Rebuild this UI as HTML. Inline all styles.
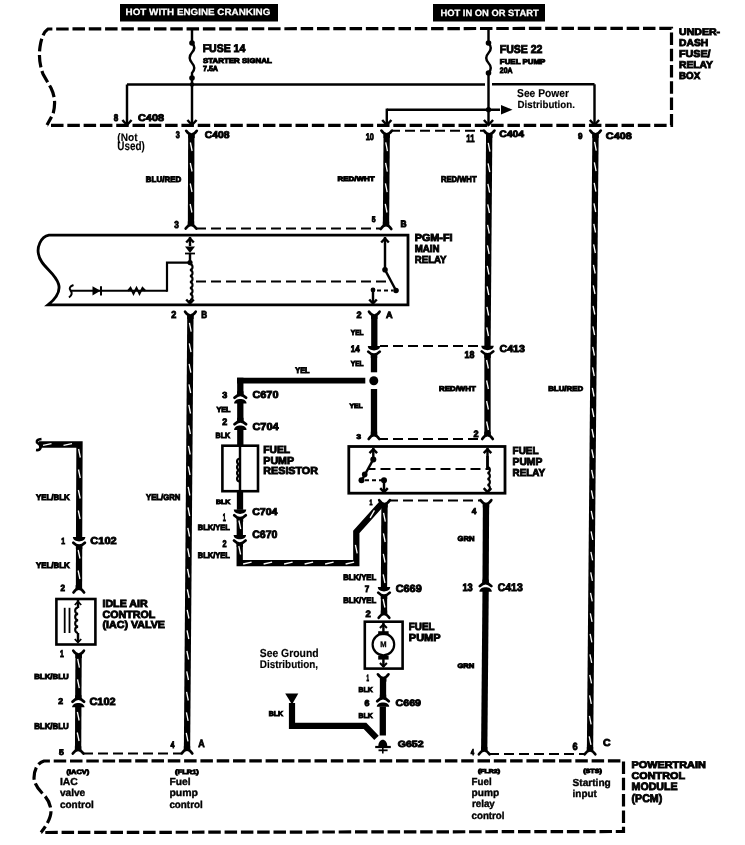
<!DOCTYPE html>
<html><head><meta charset="utf-8"><style>
html,body{margin:0;padding:0;background:#fff;}
body{width:745px;height:845px;overflow:hidden;}
svg{display:block;will-change:transform;}
text{font-family:"Liberation Sans",sans-serif;text-rendering:geometricPrecision;}
</style></head><body>
<svg width="745" height="845" viewBox="0 0 745 845">
<rect width="745" height="845" fill="#fff"/>
<rect x="120" y="4" width="158" height="17.5" fill="#000"/>
<text x="125.62" y="14.78" font-size="9.17" font-weight="bold" fill="#fff" stroke="#fff" stroke-width="0.25" textLength="144.75" lengthAdjust="spacingAndGlyphs">HOT WITH ENGINE CRANKING</text>
<rect x="433" y="4" width="112" height="17.5" fill="#000"/>
<text x="440.43" y="15.78" font-size="9.17" font-weight="bold" fill="#fff" stroke="#fff" stroke-width="0.25" textLength="98.25" lengthAdjust="spacingAndGlyphs">HOT IN ON OR START</text>
<path d="M47,125 L53,114 Q57,100 51,88 L43,74 Q38,61 40,47 Q42,33 48,29 L671.5,28.3 L671.5,125.3 L47,125.3" stroke="#000" stroke-width="3.2" fill="none" stroke-dasharray="12.5 3.8" stroke-dashoffset="3"/>
<text x="679.05" y="35.15" font-size="9.68" font-weight="bold" fill="#000" stroke="#000" stroke-width="0.9" textLength="41" lengthAdjust="spacingAndGlyphs">UNDER-</text>
<text x="679.05" y="46.45" font-size="9.97" font-weight="bold" fill="#000" stroke="#000" stroke-width="0.9" textLength="29.2" lengthAdjust="spacingAndGlyphs">DASH</text>
<text x="679.05" y="57.25" font-size="9.97" font-weight="bold" fill="#000" stroke="#000" stroke-width="0.9" textLength="31.5" lengthAdjust="spacingAndGlyphs">FUSE/</text>
<text x="679.05" y="68.05" font-size="9.97" font-weight="bold" fill="#000" stroke="#000" stroke-width="0.9" textLength="33.9" lengthAdjust="spacingAndGlyphs">RELAY</text>
<text x="679.05" y="79.35" font-size="9.97" font-weight="bold" fill="#000" stroke="#000" stroke-width="0.9" textLength="21.2" lengthAdjust="spacingAndGlyphs">BOX</text>
<line x1="192" y1="28" x2="192" y2="43" stroke="#000" stroke-width="2.45" stroke-linecap="butt"/>
<path d="M192,43 Q196.5,47.5 192,52.5 Q187.5,57.5 192,63 Q196.5,68 192,73 L192,78" stroke="#000" stroke-width="2.4" fill="none" />
<circle cx="192" cy="43" r="2.8" fill="#000"/>
<circle cx="192" cy="78" r="2.8" fill="#000"/>
<line x1="192" y1="78" x2="192" y2="124.5" stroke="#000" stroke-width="2.45" stroke-linecap="butt"/>
<polyline points="187.4,120 192,125 196.6,120" stroke="#000" stroke-width="2.45" fill="none" stroke-linejoin="miter"/>
<text x="202.65" y="51.85" font-size="11.13" font-weight="bold" fill="#000" stroke="#000" stroke-width="0.9" textLength="42.6" lengthAdjust="spacingAndGlyphs">FUSE 14</text>
<text x="202.95" y="62.95" font-size="6.93" font-weight="bold" fill="#000" stroke="#000" stroke-width="0.9" textLength="68.9" lengthAdjust="spacingAndGlyphs">STARTER SIGNAL</text>
<text x="202.95" y="71.35" font-size="7.51" font-weight="bold" fill="#000" stroke="#000" stroke-width="0.9" textLength="15.1" lengthAdjust="spacingAndGlyphs">7.5A</text>
<line x1="127" y1="84.5" x2="485" y2="84.5" stroke="#000" stroke-width="2.45" stroke-linecap="butt"/>
<line x1="492" y1="84.3" x2="594.5" y2="84.3" stroke="#000" stroke-width="2.45" stroke-linecap="butt"/>
<circle cx="192" cy="84.5" r="2.2" fill="#000"/>
<line x1="127" y1="84.5" x2="127" y2="124.5" stroke="#000" stroke-width="2.45" stroke-linecap="butt"/>
<polyline points="122.4,120 127,125 131.6,120" stroke="#000" stroke-width="2.45" fill="none" stroke-linejoin="miter"/>
<line x1="594.5" y1="84.3" x2="594.5" y2="124.5" stroke="#000" stroke-width="2.45" stroke-linecap="butt"/>
<polyline points="589.9,120 594.5,125 599.1,120" stroke="#000" stroke-width="2.45" fill="none" stroke-linejoin="miter"/>
<text x="113.65" y="121.15" font-size="9.68" font-weight="bold" fill="#000" stroke="#000" stroke-width="0.9" textLength="4.5" lengthAdjust="spacingAndGlyphs">8</text>
<text x="138.05" y="121.15" font-size="9.68" font-weight="bold" fill="#000" stroke="#000" stroke-width="0.9" textLength="25.9" lengthAdjust="spacingAndGlyphs">C408</text>
<text x="117.35" y="140.55" font-size="11.00" font-weight="bold" fill="#000" stroke="#000" stroke-width="0.1" textLength="20.2" lengthAdjust="spacingAndGlyphs">(Not</text>
<text x="117.35" y="150.45" font-size="12.23" font-weight="bold" fill="#000" stroke="#000" stroke-width="0.1" textLength="27.5" lengthAdjust="spacingAndGlyphs">Used)</text>
<line x1="488.5" y1="28" x2="488.5" y2="43" stroke="#000" stroke-width="2.45" stroke-linecap="butt"/>
<path d="M488.5,43 Q493,48 488.5,53 Q484,58 488.5,63 Q493,68 488.5,73" stroke="#000" stroke-width="2.4" fill="none" />
<circle cx="488.5" cy="43" r="2.8" fill="#000"/>
<circle cx="488.5" cy="73" r="2.8" fill="#000"/>
<line x1="488.5" y1="73" x2="488.5" y2="124.5" stroke="#000" stroke-width="2.45" stroke-linecap="butt"/>
<polyline points="483.9,120 488.5,125 493.1,120" stroke="#000" stroke-width="2.45" fill="none" stroke-linejoin="miter"/>
<line x1="386.8" y1="109.7" x2="500" y2="109.7" stroke="#000" stroke-width="2.45" stroke-linecap="butt"/>
<path d="M501,105 L512.5,109.7 L501,114.4 Z" fill="#000"/>
<circle cx="488.5" cy="109.7" r="2.6" fill="#000"/>
<line x1="386.8" y1="108.6" x2="386.8" y2="124.5" stroke="#000" stroke-width="2.45" stroke-linecap="butt"/>
<polyline points="382.2,120 386.8,125 391.4,120" stroke="#000" stroke-width="2.45" fill="none" stroke-linejoin="miter"/>
<text x="499.85" y="52.65" font-size="11.42" font-weight="bold" fill="#000" stroke="#000" stroke-width="0.9" textLength="42.6" lengthAdjust="spacingAndGlyphs">FUSE 22</text>
<text x="499.85" y="63.55" font-size="7.07" font-weight="bold" fill="#000" stroke="#000" stroke-width="0.9" textLength="45.5" lengthAdjust="spacingAndGlyphs">FUEL PUMP</text>
<text x="499.85" y="72.55" font-size="7.80" font-weight="bold" fill="#000" stroke="#000" stroke-width="0.9" textLength="12.7" lengthAdjust="spacingAndGlyphs">20A</text>
<text x="517.08" y="96.83" font-size="11.30" font-weight="bold" fill="#000" stroke="#000" stroke-width="0.15" textLength="51.85" lengthAdjust="spacingAndGlyphs">See Power</text>
<text x="517.58" y="107.92" font-size="10.27" font-weight="bold" fill="#000" stroke="#000" stroke-width="0.15" textLength="57.35" lengthAdjust="spacingAndGlyphs">Distribution.</text>
<text x="175.75" y="137.55" font-size="9.82" font-weight="bold" fill="#000" stroke="#000" stroke-width="0.9" textLength="4" lengthAdjust="spacingAndGlyphs">3</text>
<text x="204.75" y="137.55" font-size="9.82" font-weight="bold" fill="#000" stroke="#000" stroke-width="0.9" textLength="24.8" lengthAdjust="spacingAndGlyphs">C408</text>
<text x="365.75" y="139.65" font-size="9.53" font-weight="bold" fill="#000" stroke="#000" stroke-width="0.9" textLength="8.1" lengthAdjust="spacingAndGlyphs">10</text>
<text x="466.35" y="142.45" font-size="10.69" font-weight="bold" fill="#000" stroke="#000" stroke-width="0.9" textLength="8.2" lengthAdjust="spacingAndGlyphs">11</text>
<text x="499.15" y="137.15" font-size="9.24" font-weight="bold" fill="#000" stroke="#000" stroke-width="0.9" textLength="24.8" lengthAdjust="spacingAndGlyphs">C404</text>
<text x="577.95" y="138.75" font-size="8.52" font-weight="bold" fill="#000" stroke="#000" stroke-width="0.9" textLength="4.5" lengthAdjust="spacingAndGlyphs">9</text>
<text x="605.85" y="138.75" font-size="9.24" font-weight="bold" fill="#000" stroke="#000" stroke-width="0.9" textLength="26" lengthAdjust="spacingAndGlyphs">C408</text>
<line x1="392" y1="130.8" x2="483" y2="130.8" stroke="#000" stroke-width="2.0" stroke-dasharray="10 5" stroke-dashoffset="2"/>
<polyline points="191.3,134 191,225" stroke="#000" stroke-width="6.3" fill="none" stroke-linejoin="miter"/>
<line x1="190.37" y1="142.5" x2="192.14" y2="151" stroke="#fff" stroke-width="1.3"/>
<line x1="190.3" y1="163" x2="192.08" y2="171.5" stroke="#fff" stroke-width="1.3"/>
<line x1="190.24" y1="183.5" x2="192.01" y2="192" stroke="#fff" stroke-width="1.3"/>
<line x1="190.17" y1="204" x2="191.94" y2="212.5" stroke="#fff" stroke-width="1.3"/>
<path d="M186.2,130.8 Q191.5,138.4 196.8,130.8" stroke="#000" stroke-width="2.7" stroke-linecap="round" fill="none"/>
<path d="M188.3,134.6 H194.7 V138.1 H188.3 Z" fill="#000"/>
<path d="M185.7,228.6 Q191,221 196.3,228.6" stroke="#000" stroke-width="2.7" stroke-linecap="round" fill="none"/>
<path d="M187.8,221.3 H194.2 V224.8 H187.8 Z" fill="#000"/>
<polyline points="386.7,134 386,225" stroke="#000" stroke-width="6.3" fill="none" stroke-linejoin="miter"/>
<line x1="385.73" y1="142.49" x2="387.47" y2="151.01" stroke="#fff" stroke-width="1.3"/>
<line x1="385.58" y1="162.99" x2="387.31" y2="171.51" stroke="#fff" stroke-width="1.3"/>
<line x1="385.42" y1="183.49" x2="387.15" y2="192.01" stroke="#fff" stroke-width="1.3"/>
<line x1="385.26" y1="203.99" x2="387" y2="212.5" stroke="#fff" stroke-width="1.3"/>
<path d="M381.4,130.6 Q386.7,138.2 392,130.6" stroke="#000" stroke-width="2.7" stroke-linecap="round" fill="none"/>
<path d="M383.5,134.4 H389.9 V137.9 H383.5 Z" fill="#000"/>
<path d="M380.7,229 Q386,221.4 391.3,229" stroke="#000" stroke-width="2.7" stroke-linecap="round" fill="none"/>
<path d="M382.8,221.7 H389.2 V225.2 H382.8 Z" fill="#000"/>
<line x1="197" y1="228.5" x2="380" y2="228.5" stroke="#000" stroke-width="2.0" stroke-dasharray="10 5" stroke-dashoffset="1"/>
<text x="145.85" y="182.25" font-size="7.94" font-weight="bold" fill="#000" stroke="#000" stroke-width="0.9" textLength="35.4" lengthAdjust="spacingAndGlyphs">BLU/RED</text>
<text x="337.45" y="181.35" font-size="6.49" font-weight="bold" fill="#000" stroke="#000" stroke-width="0.9" textLength="37.1" lengthAdjust="spacingAndGlyphs">RED/WHT</text>
<text x="440.95" y="182.15" font-size="8.38" font-weight="bold" fill="#000" stroke="#000" stroke-width="0.9" textLength="35.6" lengthAdjust="spacingAndGlyphs">RED/WHT</text>
<text x="174.25" y="228.35" font-size="9.97" font-weight="bold" fill="#000" stroke="#000" stroke-width="0.9" textLength="4.6" lengthAdjust="spacingAndGlyphs">3</text>
<text x="371.75" y="221.55" font-size="8.09" font-weight="bold" fill="#000" stroke="#000" stroke-width="0.9" textLength="3.8" lengthAdjust="spacingAndGlyphs">5</text>
<text x="400.45" y="227.25" font-size="9.39" font-weight="bold" fill="#000" stroke="#000" stroke-width="0.9" textLength="6.1" lengthAdjust="spacingAndGlyphs">B</text>
<polyline points="489.2,134 487.5,346" stroke="#000" stroke-width="6.3" fill="none" stroke-linejoin="miter"/>
<line x1="488.23" y1="142.99" x2="489.96" y2="151.51" stroke="#fff" stroke-width="1.3"/>
<line x1="488.06" y1="163.49" x2="489.8" y2="172.01" stroke="#fff" stroke-width="1.3"/>
<line x1="487.9" y1="183.99" x2="489.63" y2="192.51" stroke="#fff" stroke-width="1.3"/>
<line x1="487.73" y1="204.49" x2="489.47" y2="213" stroke="#fff" stroke-width="1.3"/>
<line x1="487.57" y1="224.99" x2="489.3" y2="233.5" stroke="#fff" stroke-width="1.3"/>
<line x1="487.41" y1="245.49" x2="489.14" y2="254" stroke="#fff" stroke-width="1.3"/>
<line x1="487.24" y1="265.99" x2="488.97" y2="274.5" stroke="#fff" stroke-width="1.3"/>
<line x1="487.08" y1="286.49" x2="488.81" y2="295" stroke="#fff" stroke-width="1.3"/>
<line x1="486.91" y1="306.99" x2="488.64" y2="315.5" stroke="#fff" stroke-width="1.3"/>
<line x1="486.75" y1="327.49" x2="488.48" y2="336" stroke="#fff" stroke-width="1.3"/>
<path d="M483.9,130.6 Q489.2,138.2 494.5,130.6" stroke="#000" stroke-width="2.7" stroke-linecap="round" fill="none"/>
<path d="M486,134.4 H492.4 V137.9 H486 Z" fill="#000"/>
<path d="M481.3,345.8 C481.3,351.65 493.7,351.65 493.7,345.8 Z" fill="#000"/>
<path d="M481.7,351.4 Q487.5,357.4 493.3,351.4" stroke="#000" stroke-width="2.7" stroke-linecap="round" fill="none"/>
<path d="M484.3,354.4 H490.7 V357.9 H484.3 Z" fill="#000"/>
<polyline points="487.5,354 487.5,435" stroke="#000" stroke-width="6.3" fill="none" stroke-linejoin="miter"/>
<line x1="486.6" y1="360" x2="488.4" y2="368.5" stroke="#fff" stroke-width="1.3"/>
<line x1="486.6" y1="380.5" x2="488.4" y2="389" stroke="#fff" stroke-width="1.3"/>
<line x1="486.6" y1="401" x2="488.4" y2="409.5" stroke="#fff" stroke-width="1.3"/>
<line x1="486.6" y1="421.5" x2="488.4" y2="430" stroke="#fff" stroke-width="1.3"/>
<path d="M482.2,439 Q487.5,431.4 492.8,439" stroke="#000" stroke-width="2.7" stroke-linecap="round" fill="none"/>
<path d="M484.3,431.7 H490.7 V435.2 H484.3 Z" fill="#000"/>
<polyline points="595.5,134 590,751" stroke="#000" stroke-width="6.3" fill="none" stroke-linejoin="miter"/>
<line x1="594.53" y1="141.99" x2="596.25" y2="150.51" stroke="#fff" stroke-width="1.3"/>
<line x1="594.35" y1="162.49" x2="596.07" y2="171.01" stroke="#fff" stroke-width="1.3"/>
<line x1="594.16" y1="182.99" x2="595.89" y2="191.51" stroke="#fff" stroke-width="1.3"/>
<line x1="593.98" y1="203.49" x2="595.7" y2="212" stroke="#fff" stroke-width="1.3"/>
<line x1="593.8" y1="223.99" x2="595.52" y2="232.5" stroke="#fff" stroke-width="1.3"/>
<line x1="593.62" y1="244.49" x2="595.34" y2="253" stroke="#fff" stroke-width="1.3"/>
<line x1="593.43" y1="264.99" x2="595.16" y2="273.5" stroke="#fff" stroke-width="1.3"/>
<line x1="593.25" y1="285.49" x2="594.97" y2="294" stroke="#fff" stroke-width="1.3"/>
<line x1="593.07" y1="305.99" x2="594.79" y2="314.5" stroke="#fff" stroke-width="1.3"/>
<line x1="592.88" y1="326.48" x2="594.61" y2="335" stroke="#fff" stroke-width="1.3"/>
<line x1="592.7" y1="346.98" x2="594.43" y2="355.5" stroke="#fff" stroke-width="1.3"/>
<line x1="592.52" y1="367.48" x2="594.24" y2="376" stroke="#fff" stroke-width="1.3"/>
<line x1="592.34" y1="387.98" x2="594.06" y2="396.5" stroke="#fff" stroke-width="1.3"/>
<line x1="592.15" y1="408.48" x2="593.88" y2="417" stroke="#fff" stroke-width="1.3"/>
<line x1="591.97" y1="428.98" x2="593.69" y2="437.5" stroke="#fff" stroke-width="1.3"/>
<line x1="591.79" y1="449.48" x2="593.51" y2="458" stroke="#fff" stroke-width="1.3"/>
<line x1="591.61" y1="469.98" x2="593.33" y2="478.49" stroke="#fff" stroke-width="1.3"/>
<line x1="591.42" y1="490.48" x2="593.15" y2="498.99" stroke="#fff" stroke-width="1.3"/>
<line x1="591.24" y1="510.98" x2="592.96" y2="519.49" stroke="#fff" stroke-width="1.3"/>
<line x1="591.06" y1="531.48" x2="592.78" y2="539.99" stroke="#fff" stroke-width="1.3"/>
<line x1="590.87" y1="551.98" x2="592.6" y2="560.49" stroke="#fff" stroke-width="1.3"/>
<line x1="590.69" y1="572.47" x2="592.42" y2="580.99" stroke="#fff" stroke-width="1.3"/>
<line x1="590.51" y1="592.97" x2="592.23" y2="601.49" stroke="#fff" stroke-width="1.3"/>
<line x1="590.33" y1="613.47" x2="592.05" y2="621.99" stroke="#fff" stroke-width="1.3"/>
<line x1="590.14" y1="633.97" x2="591.87" y2="642.49" stroke="#fff" stroke-width="1.3"/>
<line x1="589.96" y1="654.47" x2="591.68" y2="662.99" stroke="#fff" stroke-width="1.3"/>
<line x1="589.78" y1="674.97" x2="591.5" y2="683.49" stroke="#fff" stroke-width="1.3"/>
<line x1="589.59" y1="695.47" x2="591.32" y2="703.99" stroke="#fff" stroke-width="1.3"/>
<line x1="589.41" y1="715.97" x2="591.14" y2="724.48" stroke="#fff" stroke-width="1.3"/>
<line x1="589.23" y1="736.47" x2="590.95" y2="744.98" stroke="#fff" stroke-width="1.3"/>
<path d="M590.2,130.6 Q595.5,138.2 600.8,130.6" stroke="#000" stroke-width="2.7" stroke-linecap="round" fill="none"/>
<path d="M592.3,134.4 H598.7 V137.9 H592.3 Z" fill="#000"/>
<path d="M584.7,754.3 Q590,746.7 595.3,754.3" stroke="#000" stroke-width="2.7" stroke-linecap="round" fill="none"/>
<path d="M586.8,747 H593.2 V750.5 H586.8 Z" fill="#000"/>
<text x="548.15" y="390.65" font-size="6.93" font-weight="bold" fill="#000" stroke="#000" stroke-width="0.9" textLength="35" lengthAdjust="spacingAndGlyphs">BLU/RED</text>
<path d="M408,235.2 L49,235.2 C40,237 37,248 38.5,254 C40,266 55,272 58.5,284 C61,292 54,300 48,304.9 L408,304.9 Z" stroke="#000" stroke-width="2.8" fill="none" />
<text x="414.75" y="241.05" font-size="10.11" font-weight="bold" fill="#000" stroke="#000" stroke-width="0.9" textLength="37.8" lengthAdjust="spacingAndGlyphs">PGM-FI</text>
<text x="414.75" y="252.35" font-size="10.11" font-weight="bold" fill="#000" stroke="#000" stroke-width="0.9" textLength="24.8" lengthAdjust="spacingAndGlyphs">MAIN</text>
<text x="414.75" y="263.25" font-size="10.26" font-weight="bold" fill="#000" stroke="#000" stroke-width="0.9" textLength="31.8" lengthAdjust="spacingAndGlyphs">RELAY</text>
<path d="M73.5,285 Q68,287 70.5,290.5 Q73.5,294 69,297.5" stroke="#000" stroke-width="2" fill="none" />
<line x1="71" y1="290.8" x2="167" y2="290.8" stroke="#000" stroke-width="2" stroke-linecap="butt"/>
<path d="M92.5,286.2 L100.5,290.8 L92.5,295.4 Z" fill="#000"/>
<line x1="101" y1="286.2" x2="101" y2="295.4" stroke="#000" stroke-width="2" stroke-linecap="butt"/>
<path d="M128,290.8 L130.5,287.8 L133.5,293.8 L136.5,287.8 L139.5,293.8 L142.5,287.8 L145.5,290.8" stroke="#000" stroke-width="1.9" fill="none" />
<polyline points="167,291.8 167,262.6 191,262.6" stroke="#000" stroke-width="2.2" fill="none" stroke-linejoin="miter"/>
<line x1="190" y1="237" x2="190" y2="246" stroke="#000" stroke-width="2.45" stroke-linecap="butt"/>
<polyline points="186.2,242.5 190,238.5 193.8,242.5" stroke="#000" stroke-width="2.45" fill="none" stroke-linejoin="miter"/>
<path d="M185,246.5 L195,246.5 L190,253 Z" fill="#000"/>
<line x1="185" y1="253.5" x2="195" y2="253.5" stroke="#000" stroke-width="1.8" stroke-linecap="butt"/>
<line x1="190" y1="253" x2="190" y2="262" stroke="#000" stroke-width="2.45" stroke-linecap="butt"/>
<circle cx="190" cy="262.6" r="2.6" fill="#000"/>
<path d="M190,264 C193.4,264.6 193.4,269.4 190,270 C193.4,270.6 193.4,275.4 190,276 C193.4,276.6 193.4,281.4 190,282 C193.4,282.6 193.4,287.4 190,288 C193.4,288.6 193.4,293.4 190,294 C193.4,294.6 193.4,299.4 190,300" stroke="#000" stroke-width="2.1" fill="none" />
<line x1="190" y1="300" x2="190" y2="303" stroke="#000" stroke-width="2.45" stroke-linecap="butt"/>
<polyline points="186.2,299.5 190,303.5 193.8,299.5" stroke="#000" stroke-width="2.45" fill="none" stroke-linejoin="miter"/>
<line x1="196" y1="281.4" x2="389" y2="281.4" stroke="#000" stroke-width="2.0" stroke-dasharray="10 5" stroke-dashoffset="0"/>
<line x1="385" y1="237" x2="385" y2="269.7" stroke="#000" stroke-width="2.45" stroke-linecap="butt"/>
<polyline points="381.2,242.5 385,238.5 388.8,242.5" stroke="#000" stroke-width="2.45" fill="none" stroke-linejoin="miter"/>
<circle cx="385" cy="269.7" r="2.8" fill="#000"/>
<line x1="385" y1="269.7" x2="396" y2="290.5" stroke="#000" stroke-width="2.45" stroke-linecap="butt"/>
<circle cx="396" cy="290.5" r="2.8" fill="#000"/>
<line x1="377" y1="290.5" x2="393" y2="290.5" stroke="#000" stroke-width="2" stroke-dasharray="4 3" stroke-dashoffset="0"/>
<circle cx="373" cy="290" r="2.4" fill="#000"/>
<line x1="373" y1="290" x2="373" y2="302" stroke="#000" stroke-width="2.45" stroke-linecap="butt"/>
<polyline points="369.2,299.5 373,303.5 376.8,299.5" stroke="#000" stroke-width="2.45" fill="none" stroke-linejoin="miter"/>
<polyline points="190.4,315 187,751" stroke="#000" stroke-width="6.3" fill="none" stroke-linejoin="miter"/>
<line x1="189.44" y1="322.99" x2="191.17" y2="331.51" stroke="#fff" stroke-width="1.3"/>
<line x1="189.28" y1="343.49" x2="191.01" y2="352.01" stroke="#fff" stroke-width="1.3"/>
<line x1="189.12" y1="363.99" x2="190.85" y2="372.51" stroke="#fff" stroke-width="1.3"/>
<line x1="188.96" y1="384.49" x2="190.69" y2="393" stroke="#fff" stroke-width="1.3"/>
<line x1="188.8" y1="404.99" x2="190.53" y2="413.5" stroke="#fff" stroke-width="1.3"/>
<line x1="188.64" y1="425.49" x2="190.37" y2="434" stroke="#fff" stroke-width="1.3"/>
<line x1="188.48" y1="445.99" x2="190.21" y2="454.5" stroke="#fff" stroke-width="1.3"/>
<line x1="188.32" y1="466.49" x2="190.05" y2="475" stroke="#fff" stroke-width="1.3"/>
<line x1="188.16" y1="486.99" x2="189.89" y2="495.5" stroke="#fff" stroke-width="1.3"/>
<line x1="188" y1="507.49" x2="189.73" y2="516" stroke="#fff" stroke-width="1.3"/>
<line x1="187.84" y1="527.99" x2="189.57" y2="536.5" stroke="#fff" stroke-width="1.3"/>
<line x1="187.68" y1="548.49" x2="189.41" y2="557" stroke="#fff" stroke-width="1.3"/>
<line x1="187.52" y1="568.99" x2="189.25" y2="577.5" stroke="#fff" stroke-width="1.3"/>
<line x1="187.36" y1="589.48" x2="189.09" y2="598" stroke="#fff" stroke-width="1.3"/>
<line x1="187.2" y1="609.98" x2="188.93" y2="618.5" stroke="#fff" stroke-width="1.3"/>
<line x1="187.04" y1="630.48" x2="188.77" y2="639" stroke="#fff" stroke-width="1.3"/>
<line x1="186.88" y1="650.98" x2="188.61" y2="659.5" stroke="#fff" stroke-width="1.3"/>
<line x1="186.72" y1="671.48" x2="188.45" y2="680" stroke="#fff" stroke-width="1.3"/>
<line x1="186.56" y1="691.98" x2="188.29" y2="700.5" stroke="#fff" stroke-width="1.3"/>
<line x1="186.4" y1="712.48" x2="188.13" y2="720.99" stroke="#fff" stroke-width="1.3"/>
<line x1="186.24" y1="732.98" x2="187.97" y2="741.49" stroke="#fff" stroke-width="1.3"/>
<path d="M185.1,311.7 Q190.4,319.3 195.7,311.7" stroke="#000" stroke-width="2.7" stroke-linecap="round" fill="none"/>
<path d="M187.2,315.5 H193.6 V319 H187.2 Z" fill="#000"/>
<path d="M181.7,753.5 Q187,745.9 192.3,753.5" stroke="#000" stroke-width="2.7" stroke-linecap="round" fill="none"/>
<path d="M183.8,746.2 H190.2 V749.7 H183.8 Z" fill="#000"/>
<text x="171.35" y="318.05" font-size="10.11" font-weight="bold" fill="#000" stroke="#000" stroke-width="0.9" textLength="5.1" lengthAdjust="spacingAndGlyphs">2</text>
<text x="201.15" y="318.05" font-size="10.11" font-weight="bold" fill="#000" stroke="#000" stroke-width="0.9" textLength="5.9" lengthAdjust="spacingAndGlyphs">B</text>
<text x="146.05" y="499.85" font-size="8.38" font-weight="bold" fill="#000" stroke="#000" stroke-width="0.9" textLength="34.2" lengthAdjust="spacingAndGlyphs">YEL/GRN</text>
<text x="170.45" y="748.45" font-size="9.53" font-weight="bold" fill="#000" stroke="#000" stroke-width="0.9" textLength="4" lengthAdjust="spacingAndGlyphs">4</text>
<text x="198.25" y="747.25" font-size="10.69" font-weight="bold" fill="#000" stroke="#000" stroke-width="0.9" textLength="6.4" lengthAdjust="spacingAndGlyphs">A</text>
<polyline points="374.3,315 374.3,346" stroke="#000" stroke-width="6.3" fill="none" stroke-linejoin="miter"/>
<path d="M369,311.7 Q374.3,319.3 379.6,311.7" stroke="#000" stroke-width="2.7" stroke-linecap="round" fill="none"/>
<path d="M371.1,315.5 H377.5 V319 H371.1 Z" fill="#000"/>
<text x="356.45" y="317.85" font-size="9.24" font-weight="bold" fill="#000" stroke="#000" stroke-width="0.9" textLength="5.1" lengthAdjust="spacingAndGlyphs">2</text>
<text x="386.05" y="317.85" font-size="9.24" font-weight="bold" fill="#000" stroke="#000" stroke-width="0.9" textLength="6.6" lengthAdjust="spacingAndGlyphs">A</text>
<text x="350.75" y="335.25" font-size="7.36" font-weight="bold" fill="#000" stroke="#000" stroke-width="0.9" textLength="12.8" lengthAdjust="spacingAndGlyphs">YEL</text>
<path d="M367.8,346 C367.8,351.85 380.2,351.85 380.2,346 Z" fill="#000"/>
<path d="M368.2,351.6 Q374,357.6 379.8,351.6" stroke="#000" stroke-width="2.7" stroke-linecap="round" fill="none"/>
<path d="M370.8,354.6 H377.2 V358.1 H370.8 Z" fill="#000"/>
<line x1="380" y1="346" x2="482" y2="346" stroke="#000" stroke-width="2.0" stroke-dasharray="10 5" stroke-dashoffset="2"/>
<polyline points="374,354 374,372.3" stroke="#000" stroke-width="6.3" fill="none" stroke-linejoin="miter"/>
<text x="350.75" y="351.75" font-size="9.39" font-weight="bold" fill="#000" stroke="#000" stroke-width="0.9" textLength="9" lengthAdjust="spacingAndGlyphs">14</text>
<text x="350.75" y="366.25" font-size="7.22" font-weight="bold" fill="#000" stroke="#000" stroke-width="0.9" textLength="12.8" lengthAdjust="spacingAndGlyphs">YEL</text>
<text x="464.55" y="358.15" font-size="9.97" font-weight="bold" fill="#000" stroke="#000" stroke-width="0.9" textLength="9.9" lengthAdjust="spacingAndGlyphs">18</text>
<text x="499.45" y="351.75" font-size="9.97" font-weight="bold" fill="#000" stroke="#000" stroke-width="0.9" textLength="25.5" lengthAdjust="spacingAndGlyphs">C413</text>
<circle cx="373.8" cy="380.7" r="4.5" fill="#000"/>
<polyline points="237,380.6 365.3,380.6" stroke="#000" stroke-width="5.8" fill="none" stroke-linejoin="miter"/>
<polyline points="374,389 374,435" stroke="#000" stroke-width="6.3" fill="none" stroke-linejoin="miter"/>
<path d="M368.7,439 Q374,431.4 379.3,439" stroke="#000" stroke-width="2.7" stroke-linecap="round" fill="none"/>
<path d="M370.8,431.7 H377.2 V435.2 H370.8 Z" fill="#000"/>
<text x="295.25" y="372.65" font-size="7.94" font-weight="bold" fill="#000" stroke="#000" stroke-width="0.9" textLength="14.3" lengthAdjust="spacingAndGlyphs">YEL</text>
<text x="349.45" y="407.55" font-size="6.35" font-weight="bold" fill="#000" stroke="#000" stroke-width="0.9" textLength="13.1" lengthAdjust="spacingAndGlyphs">YEL</text>
<text x="439.05" y="390.65" font-size="6.93" font-weight="bold" fill="#000" stroke="#000" stroke-width="0.9" textLength="36.7" lengthAdjust="spacingAndGlyphs">RED/WHT</text>
<line x1="380" y1="439" x2="482" y2="439" stroke="#000" stroke-width="2.0" stroke-dasharray="10 5" stroke-dashoffset="2"/>
<text x="356.55" y="439.05" font-size="6.93" font-weight="bold" fill="#000" stroke="#000" stroke-width="0.9" textLength="4.5" lengthAdjust="spacingAndGlyphs">3</text>
<text x="473.45" y="436.55" font-size="9.24" font-weight="bold" fill="#000" stroke="#000" stroke-width="0.9" textLength="5.1" lengthAdjust="spacingAndGlyphs">2</text>
<polyline points="240.3,377.7 240.3,395" stroke="#000" stroke-width="6.3" fill="none" stroke-linejoin="miter"/>
<path d="M234.1,403.4 C234.1,397.55 246.5,397.55 246.5,403.4 Z" fill="#000"/>
<path d="M234.5,397.8 Q240.3,391.8 246.1,397.8" stroke="#000" stroke-width="2.7" stroke-linecap="round" fill="none"/>
<path d="M237.1,391.3 H243.5 V394.8 H237.1 Z" fill="#000"/>
<polyline points="240.3,403 240.3,421.5" stroke="#000" stroke-width="6.3" fill="none" stroke-linejoin="miter"/>
<path d="M234.1,429.9 C234.1,424.05 246.5,424.05 246.5,429.9 Z" fill="#000"/>
<path d="M234.5,424.3 Q240.3,418.3 246.1,424.3" stroke="#000" stroke-width="2.7" stroke-linecap="round" fill="none"/>
<path d="M237.1,417.8 H243.5 V421.3 H237.1 Z" fill="#000"/>
<polyline points="240.3,429 240.3,445" stroke="#000" stroke-width="6.3" fill="none" stroke-linejoin="miter"/>
<text x="222.25" y="398.15" font-size="8.81" font-weight="bold" fill="#000" stroke="#000" stroke-width="0.9" textLength="5" lengthAdjust="spacingAndGlyphs">3</text>
<text x="252.45" y="398.15" font-size="10.11" font-weight="bold" fill="#000" stroke="#000" stroke-width="0.9" textLength="26" lengthAdjust="spacingAndGlyphs">C670</text>
<text x="216.45" y="411.85" font-size="7.36" font-weight="bold" fill="#000" stroke="#000" stroke-width="0.9" textLength="14.1" lengthAdjust="spacingAndGlyphs">YEL</text>
<text x="222.25" y="424.65" font-size="9.53" font-weight="bold" fill="#000" stroke="#000" stroke-width="0.9" textLength="5" lengthAdjust="spacingAndGlyphs">2</text>
<text x="252.45" y="430.05" font-size="10.11" font-weight="bold" fill="#000" stroke="#000" stroke-width="0.9" textLength="26.1" lengthAdjust="spacingAndGlyphs">C704</text>
<text x="215.55" y="438.45" font-size="7.65" font-weight="bold" fill="#000" stroke="#000" stroke-width="0.9" textLength="14.6" lengthAdjust="spacingAndGlyphs">BLK</text>
<rect x="222.4" y="445.7" width="35.6" height="45.5" stroke="#000" stroke-width="2.6" fill="none"/>
<line x1="240" y1="446" x2="240" y2="491" stroke="#000" stroke-width="2.45" stroke-linecap="butt"/>
<path d="M240,458.5 C236,459.08 236,463.72 240,464.3 C236,464.88 236,469.52 240,470.1 C236,470.68 236,475.32 240,475.9 C236,476.48 236,481.12 240,481.7" stroke="#000" stroke-width="2.1" fill="none" />
<text x="263.35" y="452.65" font-size="10.26" font-weight="bold" fill="#000" stroke="#000" stroke-width="0.9" textLength="26.8" lengthAdjust="spacingAndGlyphs">FUEL</text>
<text x="263.35" y="463.55" font-size="10.26" font-weight="bold" fill="#000" stroke="#000" stroke-width="0.9" textLength="30.7" lengthAdjust="spacingAndGlyphs">PUMP</text>
<text x="263.35" y="474.25" font-size="10.26" font-weight="bold" fill="#000" stroke="#000" stroke-width="0.9" textLength="54.6" lengthAdjust="spacingAndGlyphs">RESISTOR</text>
<polyline points="240,491 240,509.8" stroke="#000" stroke-width="6.3" fill="none" stroke-linejoin="miter"/>
<path d="M233.8,509.6 C233.8,515.45 246.2,515.45 246.2,509.6 Z" fill="#000"/>
<path d="M234.2,515.2 Q240,521.2 245.8,515.2" stroke="#000" stroke-width="2.7" stroke-linecap="round" fill="none"/>
<path d="M236.8,518.2 H243.2 V521.7 H236.8 Z" fill="#000"/>
<polyline points="239.8,517.5 239.8,535.1" stroke="#000" stroke-width="6.3" fill="none" stroke-linejoin="miter"/>
<line x1="238.9" y1="520.5" x2="240.7" y2="529" stroke="#fff" stroke-width="1.3"/>
<path d="M233.6,534.9 C233.6,540.75 246,540.75 246,534.9 Z" fill="#000"/>
<path d="M234,540.5 Q239.8,546.5 245.6,540.5" stroke="#000" stroke-width="2.7" stroke-linecap="round" fill="none"/>
<path d="M236.6,543.5 H243 V547 H236.6 Z" fill="#000"/>
<polyline points="239.7,543 239.7,563.1 356.3,563.1 356.3,532 381.8,503.5" stroke="#000" stroke-width="6.3" fill="none" stroke-linejoin="miter"/>
<line x1="238.8" y1="546" x2="240.6" y2="554.5" stroke="#fff" stroke-width="1.3"/>
<line x1="243.1" y1="564" x2="251.6" y2="562.2" stroke="#fff" stroke-width="1.3"/>
<line x1="263.6" y1="564" x2="272.1" y2="562.2" stroke="#fff" stroke-width="1.3"/>
<line x1="284.1" y1="564" x2="292.6" y2="562.2" stroke="#fff" stroke-width="1.3"/>
<line x1="304.6" y1="564" x2="313.1" y2="562.2" stroke="#fff" stroke-width="1.3"/>
<line x1="325.1" y1="564" x2="333.6" y2="562.2" stroke="#fff" stroke-width="1.3"/>
<line x1="345.6" y1="564" x2="354.1" y2="562.2" stroke="#fff" stroke-width="1.3"/>
<line x1="357.2" y1="553.3" x2="355.4" y2="544.8" stroke="#fff" stroke-width="1.3"/>
<line x1="370.11" y1="517.92" x2="374.43" y2="510.38" stroke="#fff" stroke-width="1.3"/>
<text x="215.95" y="503.65" font-size="6.35" font-weight="bold" fill="#000" stroke="#000" stroke-width="0.9" textLength="14.5" lengthAdjust="spacingAndGlyphs">BLK</text>
<text x="252.15" y="515.05" font-size="9.82" font-weight="bold" fill="#000" stroke="#000" stroke-width="0.9" textLength="25.3" lengthAdjust="spacingAndGlyphs">C704</text>
<text x="222.65" y="521.05" font-size="10.69" font-weight="bold" fill="#000" stroke="#000" stroke-width="0.9" textLength="3.1" lengthAdjust="spacingAndGlyphs">1</text>
<text x="197.85" y="530.45" font-size="7.80" font-weight="bold" fill="#000" stroke="#000" stroke-width="0.9" textLength="32" lengthAdjust="spacingAndGlyphs">BLK/YEL</text>
<text x="252.15" y="537.85" font-size="10.69" font-weight="bold" fill="#000" stroke="#000" stroke-width="0.9" textLength="25.3" lengthAdjust="spacingAndGlyphs">C670</text>
<text x="222.45" y="547.25" font-size="9.82" font-weight="bold" fill="#000" stroke="#000" stroke-width="0.9" textLength="4.1" lengthAdjust="spacingAndGlyphs">2</text>
<text x="197.85" y="558.05" font-size="7.94" font-weight="bold" fill="#000" stroke="#000" stroke-width="0.9" textLength="32" lengthAdjust="spacingAndGlyphs">BLK/YEL</text>
<rect x="348.8" y="446.5" width="156.2" height="46.7" stroke="#000" stroke-width="2.8" fill="none"/>
<text x="512.55" y="453.65" font-size="10.26" font-weight="bold" fill="#000" stroke="#000" stroke-width="0.9" textLength="26" lengthAdjust="spacingAndGlyphs">FUEL</text>
<text x="512.55" y="464.55" font-size="10.26" font-weight="bold" fill="#000" stroke="#000" stroke-width="0.9" textLength="29.7" lengthAdjust="spacingAndGlyphs">PUMP</text>
<text x="512.55" y="475.75" font-size="10.11" font-weight="bold" fill="#000" stroke="#000" stroke-width="0.9" textLength="32.5" lengthAdjust="spacingAndGlyphs">RELAY</text>
<line x1="373.3" y1="448" x2="373.3" y2="459.4" stroke="#000" stroke-width="2.45" stroke-linecap="butt"/>
<polyline points="369.5,453.2 373.3,449.2 377.1,453.2" stroke="#000" stroke-width="2.45" fill="none" stroke-linejoin="miter"/>
<circle cx="373.3" cy="459.4" r="3" fill="#000"/>
<line x1="373.3" y1="459.4" x2="362.5" y2="479" stroke="#000" stroke-width="2.45" stroke-linecap="butt"/>
<circle cx="364.7" cy="474.4" r="2.8" fill="#000"/>
<circle cx="361.5" cy="480.3" r="3" fill="#000"/>
<line x1="365" y1="480.3" x2="382" y2="480.3" stroke="#000" stroke-width="2" stroke-dasharray="4 3" stroke-dashoffset="0"/>
<circle cx="384" cy="480.3" r="3" fill="#000"/>
<line x1="384" y1="480.3" x2="384" y2="491.5" stroke="#000" stroke-width="2.45" stroke-linecap="butt"/>
<polyline points="380.2,488.1 384,492.1 387.8,488.1" stroke="#000" stroke-width="2.45" fill="none" stroke-linejoin="miter"/>
<line x1="368.5" y1="469" x2="487" y2="469" stroke="#000" stroke-width="2.0" stroke-dasharray="10 5" stroke-dashoffset="3"/>
<line x1="487.5" y1="448" x2="487.5" y2="470" stroke="#000" stroke-width="2.45" stroke-linecap="butt"/>
<polyline points="483.7,453.2 487.5,449.2 491.3,453.2" stroke="#000" stroke-width="2.45" fill="none" stroke-linejoin="miter"/>
<line x1="487.5" y1="470" x2="487.5" y2="456" stroke="#000" stroke-width="2.45" stroke-linecap="butt"/>
<path d="M487.5,467 C490.7,467.6 490.7,472.4 487.5,473 C490.7,473.6 490.7,478.4 487.5,479 C490.7,479.6 490.7,484.4 487.5,485 C490.7,485.6 490.7,490.4 487.5,491" stroke="#000" stroke-width="2.1" fill="none" />
<polyline points="483.7,488.1 487.5,492.1 491.3,488.1" stroke="#000" stroke-width="2.45" fill="none" stroke-linejoin="miter"/>
<path d="M379.2,500.2 Q384.5,507.8 389.8,500.2" stroke="#000" stroke-width="2.7" stroke-linecap="round" fill="none"/>
<path d="M381.3,504 H387.7 V507.5 H381.3 Z" fill="#000"/>
<polyline points="384.5,504 384,587.3" stroke="#000" stroke-width="6.3" fill="none" stroke-linejoin="miter"/>
<line x1="383.55" y1="512.99" x2="385.29" y2="521.51" stroke="#fff" stroke-width="1.3"/>
<line x1="383.42" y1="533.49" x2="385.17" y2="542" stroke="#fff" stroke-width="1.3"/>
<line x1="383.3" y1="553.99" x2="385.05" y2="562.5" stroke="#fff" stroke-width="1.3"/>
<line x1="383.18" y1="574.49" x2="384.93" y2="583" stroke="#fff" stroke-width="1.3"/>
<text x="369.45" y="505.15" font-size="7.65" font-weight="bold" fill="#000" stroke="#000" stroke-width="0.9" textLength="2.9" lengthAdjust="spacingAndGlyphs">1</text>
<text x="471.85" y="514.05" font-size="8.52" font-weight="bold" fill="#000" stroke="#000" stroke-width="0.9" textLength="4.7" lengthAdjust="spacingAndGlyphs">4</text>
<line x1="390" y1="500.6" x2="481" y2="500.6" stroke="#000" stroke-width="2.0" stroke-dasharray="10 5" stroke-dashoffset="2"/>
<path d="M480.7,500.2 Q486,507.8 491.3,500.2" stroke="#000" stroke-width="2.7" stroke-linecap="round" fill="none"/>
<path d="M482.8,504 H489.2 V507.5 H482.8 Z" fill="#000"/>
<polyline points="486,504 485.6,583.5" stroke="#000" stroke-width="6.3" fill="none" stroke-linejoin="miter"/>
<path d="M479.4,591.7 C479.4,585.85 491.8,585.85 491.8,591.7 Z" fill="#000"/>
<path d="M479.8,586.1 Q485.6,580.1 491.4,586.1" stroke="#000" stroke-width="2.7" stroke-linecap="round" fill="none"/>
<path d="M482.4,579.6 H488.8 V583.1 H482.4 Z" fill="#000"/>
<polyline points="485.6,591 484.2,751" stroke="#000" stroke-width="6.3" fill="none" stroke-linejoin="miter"/>
<path d="M478.9,754.3 Q484.2,746.7 489.5,754.3" stroke="#000" stroke-width="2.7" stroke-linecap="round" fill="none"/>
<path d="M481,747 H487.4 V750.5 H481 Z" fill="#000"/>
<text x="457.45" y="540.55" font-size="7.07" font-weight="bold" fill="#000" stroke="#000" stroke-width="0.9" textLength="17.1" lengthAdjust="spacingAndGlyphs">GRN</text>
<text x="462.45" y="591.05" font-size="10.69" font-weight="bold" fill="#000" stroke="#000" stroke-width="0.9" textLength="10.3" lengthAdjust="spacingAndGlyphs">13</text>
<text x="497.75" y="591.05" font-size="10.98" font-weight="bold" fill="#000" stroke="#000" stroke-width="0.9" textLength="25" lengthAdjust="spacingAndGlyphs">C413</text>
<text x="457.45" y="667.55" font-size="6.64" font-weight="bold" fill="#000" stroke="#000" stroke-width="0.9" textLength="16.9" lengthAdjust="spacingAndGlyphs">GRN</text>
<text x="343.15" y="579.95" font-size="7.94" font-weight="bold" fill="#000" stroke="#000" stroke-width="0.9" textLength="33.1" lengthAdjust="spacingAndGlyphs">BLK/YEL</text>
<text x="364.75" y="592.35" font-size="9.24" font-weight="bold" fill="#000" stroke="#000" stroke-width="0.9" textLength="4.5" lengthAdjust="spacingAndGlyphs">7</text>
<text x="395.65" y="592.35" font-size="10.40" font-weight="bold" fill="#000" stroke="#000" stroke-width="0.9" textLength="26.1" lengthAdjust="spacingAndGlyphs">C669</text>
<text x="343.15" y="603.15" font-size="8.09" font-weight="bold" fill="#000" stroke="#000" stroke-width="0.9" textLength="33.1" lengthAdjust="spacingAndGlyphs">BLK/YEL</text>
<text x="365.55" y="617.05" font-size="9.24" font-weight="bold" fill="#000" stroke="#000" stroke-width="0.9" textLength="5.3" lengthAdjust="spacingAndGlyphs">2</text>
<path d="M377.8,587 C377.8,592.85 390.2,592.85 390.2,587 Z" fill="#000"/>
<path d="M378.2,592.6 Q384,598.6 389.8,592.6" stroke="#000" stroke-width="2.7" stroke-linecap="round" fill="none"/>
<path d="M380.8,595.6 H387.2 V599.1 H380.8 Z" fill="#000"/>
<polyline points="384,595 384,614" stroke="#000" stroke-width="6.3" fill="none" stroke-linejoin="miter"/>
<line x1="383.1" y1="599" x2="384.9" y2="607.5" stroke="#fff" stroke-width="1.3"/>
<path d="M378.7,617.8 Q384,610.2 389.3,617.8" stroke="#000" stroke-width="2.7" stroke-linecap="round" fill="none"/>
<path d="M380.8,610.5 H387.2 V614 H380.8 Z" fill="#000"/>
<rect x="364.8" y="621.7" width="37.8" height="46.9" stroke="#000" stroke-width="2.6" fill="none"/>
<line x1="383.4" y1="622" x2="383.4" y2="632" stroke="#000" stroke-width="2.45" stroke-linecap="butt"/>
<polyline points="379.9,628 383.4,624.5 386.9,628" stroke="#000" stroke-width="2" fill="none" stroke-linejoin="miter"/>
<rect x="378.2" y="631.2" width="10.4" height="4" fill="#000"/>
<circle cx="383.4" cy="644.5" r="10.8" stroke="#000" stroke-width="2.2" fill="none"/>
<text x="380.35" y="647.25" font-size="8.11" font-weight="bold" fill="#000" stroke="#000" stroke-width="0.3" textLength="6.3" lengthAdjust="spacingAndGlyphs">M</text>
<rect x="378.2" y="655.6" width="10.4" height="4" fill="#000"/>
<line x1="383.4" y1="659" x2="383.4" y2="667" stroke="#000" stroke-width="2.45" stroke-linecap="butt"/>
<polyline points="379.9,663 383.4,666.5 386.9,663" stroke="#000" stroke-width="2" fill="none" stroke-linejoin="miter"/>
<text x="408.85" y="630.15" font-size="10.40" font-weight="bold" fill="#000" stroke="#000" stroke-width="0.9" textLength="25.7" lengthAdjust="spacingAndGlyphs">FUEL</text>
<text x="408.85" y="640.85" font-size="10.26" font-weight="bold" fill="#000" stroke="#000" stroke-width="0.9" textLength="31.7" lengthAdjust="spacingAndGlyphs">PUMP</text>
<path d="M377.9,674.3 Q383.2,681.9 388.5,674.3" stroke="#000" stroke-width="2.7" stroke-linecap="round" fill="none"/>
<path d="M380,678.1 H386.4 V681.6 H380 Z" fill="#000"/>
<polyline points="383,678 383,698.5" stroke="#000" stroke-width="6.3" fill="none" stroke-linejoin="miter"/>
<path d="M376.8,706.8 C376.8,700.95 389.2,700.95 389.2,706.8 Z" fill="#000"/>
<path d="M377.2,701.2 Q383,695.2 388.8,701.2" stroke="#000" stroke-width="2.7" stroke-linecap="round" fill="none"/>
<path d="M379.8,694.7 H386.2 V698.2 H379.8 Z" fill="#000"/>
<polyline points="382.8,706.5 382.8,735.5" stroke="#000" stroke-width="6.3" fill="none" stroke-linejoin="miter"/>
<text x="366.55" y="680.85" font-size="9.24" font-weight="bold" fill="#000" stroke="#000" stroke-width="0.9" textLength="2.5" lengthAdjust="spacingAndGlyphs">1</text>
<text x="358.45" y="692.15" font-size="6.93" font-weight="bold" fill="#000" stroke="#000" stroke-width="0.9" textLength="14.2" lengthAdjust="spacingAndGlyphs">BLK</text>
<text x="364.45" y="705.55" font-size="8.52" font-weight="bold" fill="#000" stroke="#000" stroke-width="0.9" textLength="5" lengthAdjust="spacingAndGlyphs">6</text>
<text x="395.55" y="705.55" font-size="9.24" font-weight="bold" fill="#000" stroke="#000" stroke-width="0.9" textLength="25.4" lengthAdjust="spacingAndGlyphs">C669</text>
<text x="358.45" y="718.45" font-size="6.93" font-weight="bold" fill="#000" stroke="#000" stroke-width="0.9" textLength="14.2" lengthAdjust="spacingAndGlyphs">BLK</text>
<path d="M378.3,746.5 C378.3,737.5 387.3,737.5 387.3,746.5 Z" fill="#000"/>
<line x1="375.2" y1="747" x2="390.8" y2="747" stroke="#000" stroke-width="2.2" stroke-linecap="butt"/>
<line x1="378.5" y1="750.3" x2="387.6" y2="750.3" stroke="#000" stroke-width="1.8" stroke-linecap="butt"/>
<line x1="382.8" y1="746" x2="382.8" y2="753.5" stroke="#000" stroke-width="1.6" stroke-linecap="butt"/>
<text x="397.75" y="746.85" font-size="9.10" font-weight="bold" fill="#000" stroke="#000" stroke-width="0.9" textLength="25.9" lengthAdjust="spacingAndGlyphs">G652</text>
<polyline points="292,703 292,725.8 365,725.8 376.5,737.8" stroke="#000" stroke-width="6.2" fill="none" stroke-linejoin="miter"/>
<path d="M285.2,693.5 L298.3,693.5 L292,704.5 Z" fill="#000"/>
<text x="268.75" y="715.55" font-size="6.93" font-weight="bold" fill="#000" stroke="#000" stroke-width="0.9" textLength="14.4" lengthAdjust="spacingAndGlyphs">BLK</text>
<text x="259.77" y="657.12" font-size="11.59" font-weight="bold" fill="#000" stroke="#000" stroke-width="0.15" textLength="58.85" lengthAdjust="spacingAndGlyphs">See Ground</text>
<text x="259.77" y="668.42" font-size="11.10" font-weight="bold" fill="#000" stroke="#000" stroke-width="0.15" textLength="58.35" lengthAdjust="spacingAndGlyphs">Distribution,</text>
<polyline points="39,444.5 79.5,444.5 79.1,537.3" stroke="#000" stroke-width="6.3" fill="none" stroke-linejoin="miter"/>
<line x1="43" y1="445.4" x2="51.5" y2="443.6" stroke="#fff" stroke-width="1.3"/>
<line x1="63.5" y1="445.4" x2="72" y2="443.6" stroke="#fff" stroke-width="1.3"/>
<line x1="78.58" y1="449" x2="80.34" y2="457.5" stroke="#fff" stroke-width="1.3"/>
<line x1="78.49" y1="469.5" x2="80.26" y2="478" stroke="#fff" stroke-width="1.3"/>
<line x1="78.4" y1="490" x2="80.17" y2="498.5" stroke="#fff" stroke-width="1.3"/>
<line x1="78.32" y1="510.5" x2="80.08" y2="519" stroke="#fff" stroke-width="1.3"/>
<path d="M41.5,439 Q36,439.5 37,442.5 Q41.5,445.5 40.5,448 Q39.5,450.5 36,450" stroke="#000" stroke-width="2.6" fill="none" />
<path d="M72.9,537.1 C72.9,542.95 85.3,542.95 85.3,537.1 Z" fill="#000"/>
<path d="M73.3,542.7 Q79.1,548.7 84.9,542.7" stroke="#000" stroke-width="2.7" stroke-linecap="round" fill="none"/>
<path d="M75.9,545.7 H82.3 V549.2 H75.9 Z" fill="#000"/>
<polyline points="79.1,545 79,589" stroke="#000" stroke-width="6.3" fill="none" stroke-linejoin="miter"/>
<line x1="78.19" y1="550" x2="79.97" y2="558.5" stroke="#fff" stroke-width="1.3"/>
<line x1="78.14" y1="570.5" x2="79.92" y2="579" stroke="#fff" stroke-width="1.3"/>
<path d="M73.5,592.5 Q78.8,584.9 84.1,592.5" stroke="#000" stroke-width="2.7" stroke-linecap="round" fill="none"/>
<path d="M75.6,585.2 H82 V588.7 H75.6 Z" fill="#000"/>
<text x="35.95" y="499.55" font-size="8.09" font-weight="bold" fill="#000" stroke="#000" stroke-width="0.9" textLength="33.8" lengthAdjust="spacingAndGlyphs">YEL/BLK</text>
<text x="61.15" y="543.75" font-size="8.96" font-weight="bold" fill="#000" stroke="#000" stroke-width="0.9" textLength="3.8" lengthAdjust="spacingAndGlyphs">1</text>
<text x="90.35" y="544.45" font-size="9.97" font-weight="bold" fill="#000" stroke="#000" stroke-width="0.9" textLength="26.3" lengthAdjust="spacingAndGlyphs">C102</text>
<text x="35.95" y="567.55" font-size="7.94" font-weight="bold" fill="#000" stroke="#000" stroke-width="0.9" textLength="33.8" lengthAdjust="spacingAndGlyphs">YEL/BLK</text>
<text x="60.45" y="591.35" font-size="8.96" font-weight="bold" fill="#000" stroke="#000" stroke-width="0.9" textLength="4.5" lengthAdjust="spacingAndGlyphs">2</text>
<rect x="56.4" y="599" width="39" height="45.5" stroke="#000" stroke-width="2.6" fill="none"/>
<line x1="64.7" y1="607.8" x2="64.7" y2="633" stroke="#000" stroke-width="1.8" stroke-linecap="butt"/>
<line x1="69.5" y1="607.8" x2="69.5" y2="633" stroke="#000" stroke-width="1.8" stroke-linecap="butt"/>
<line x1="78" y1="600" x2="78" y2="608" stroke="#000" stroke-width="2.45" stroke-linecap="butt"/>
<polyline points="74.8,605 78,601.5 81.2,605" stroke="#000" stroke-width="1.8" fill="none" stroke-linejoin="miter"/>
<path d="M78,607.5 C74.2,608.14 74.2,613.24 78,613.88 C74.2,614.51 74.2,619.61 78,620.25 C74.2,620.89 74.2,625.99 78,626.62 C74.2,627.26 74.2,632.36 78,633" stroke="#000" stroke-width="2.1" fill="none" />
<line x1="78" y1="633" x2="78" y2="642" stroke="#000" stroke-width="2.45" stroke-linecap="butt"/>
<polyline points="74.8,639 78,642.5 81.2,639" stroke="#000" stroke-width="1.8" fill="none" stroke-linejoin="miter"/>
<text x="102.45" y="606.55" font-size="10.40" font-weight="bold" fill="#000" stroke="#000" stroke-width="0.9" textLength="45.3" lengthAdjust="spacingAndGlyphs">IDLE AIR</text>
<text x="102.45" y="617.65" font-size="10.40" font-weight="bold" fill="#000" stroke="#000" stroke-width="0.9" textLength="52.8" lengthAdjust="spacingAndGlyphs">CONTROL</text>
<text x="102.45" y="628.05" font-size="10.26" font-weight="bold" fill="#000" stroke="#000" stroke-width="0.9" textLength="62.5" lengthAdjust="spacingAndGlyphs">(IAC) VALVE</text>
<path d="M73.3,650.7 Q78.6,658.3 83.9,650.7" stroke="#000" stroke-width="2.7" stroke-linecap="round" fill="none"/>
<path d="M75.4,654.5 H81.8 V658 H75.4 Z" fill="#000"/>
<polyline points="78.6,654 78.3,699" stroke="#000" stroke-width="6.3" fill="none" stroke-linejoin="miter"/>
<line x1="77.67" y1="658.99" x2="79.41" y2="667.51" stroke="#fff" stroke-width="1.3"/>
<line x1="77.53" y1="679.49" x2="79.27" y2="688.01" stroke="#fff" stroke-width="1.3"/>
<path d="M72.1,707.3 C72.1,701.45 84.5,701.45 84.5,707.3 Z" fill="#000"/>
<path d="M72.5,701.7 Q78.3,695.7 84.1,701.7" stroke="#000" stroke-width="2.7" stroke-linecap="round" fill="none"/>
<path d="M75.1,695.2 H81.5 V698.7 H75.1 Z" fill="#000"/>
<polyline points="78.3,707 78.1,750" stroke="#000" stroke-width="6.3" fill="none" stroke-linejoin="miter"/>
<line x1="77.38" y1="712" x2="79.14" y2="720.5" stroke="#fff" stroke-width="1.3"/>
<line x1="77.28" y1="732.5" x2="79.04" y2="741" stroke="#fff" stroke-width="1.3"/>
<path d="M72.8,753.6 Q78.1,746 83.4,753.6" stroke="#000" stroke-width="2.7" stroke-linecap="round" fill="none"/>
<path d="M74.9,746.3 H81.3 V749.8 H74.9 Z" fill="#000"/>
<text x="59.95" y="656.55" font-size="9.97" font-weight="bold" fill="#000" stroke="#000" stroke-width="0.9" textLength="3.8" lengthAdjust="spacingAndGlyphs">1</text>
<text x="34.15" y="678.55" font-size="7.22" font-weight="bold" fill="#000" stroke="#000" stroke-width="0.9" textLength="34.6" lengthAdjust="spacingAndGlyphs">BLK/BLU</text>
<text x="58.25" y="704.15" font-size="8.38" font-weight="bold" fill="#000" stroke="#000" stroke-width="0.9" textLength="4.8" lengthAdjust="spacingAndGlyphs">2</text>
<text x="89.45" y="705.05" font-size="10.40" font-weight="bold" fill="#000" stroke="#000" stroke-width="0.9" textLength="26.2" lengthAdjust="spacingAndGlyphs">C102</text>
<text x="34.15" y="729.05" font-size="8.38" font-weight="bold" fill="#000" stroke="#000" stroke-width="0.9" textLength="34.6" lengthAdjust="spacingAndGlyphs">BLK/BLU</text>
<text x="58.95" y="754.55" font-size="8.23" font-weight="bold" fill="#000" stroke="#000" stroke-width="0.9" textLength="4.8" lengthAdjust="spacingAndGlyphs">5</text>
<line x1="84" y1="753.4" x2="181" y2="753.4" stroke="#000" stroke-width="2.0" stroke-dasharray="10 5" stroke-dashoffset="1"/>
<line x1="490" y1="754" x2="584" y2="754" stroke="#000" stroke-width="2.0" stroke-dasharray="10 5" stroke-dashoffset="1"/>
<path d="M41,832.5 Q51,820 51,811 Q50.5,802 44,795 Q34.5,786 34,778 Q34.5,764 44,761 L623.5,760.8 L623.5,831.5 L41,832.5" stroke="#000" stroke-width="3.2" fill="none" stroke-dasharray="12.5 3.8" stroke-dashoffset="5"/>
<text x="66.55" y="773.85" font-size="6.35" font-weight="bold" fill="#000" stroke="#000" stroke-width="0.9" textLength="22.7" lengthAdjust="spacingAndGlyphs">(IACV)</text>
<text x="59.9" y="785.1" font-size="10.20" font-weight="bold" fill="#000" stroke="#000" stroke-width="0.4" textLength="17.8" lengthAdjust="spacingAndGlyphs">IAC</text>
<text x="59.9" y="796.3" font-size="10.20" font-weight="bold" fill="#000" stroke="#000" stroke-width="0.4" textLength="25.3" lengthAdjust="spacingAndGlyphs">valve</text>
<text x="59.9" y="807.5" font-size="10.20" font-weight="bold" fill="#000" stroke="#000" stroke-width="0.4" textLength="33.9" lengthAdjust="spacingAndGlyphs">control</text>
<text x="175.05" y="773.85" font-size="6.35" font-weight="bold" fill="#000" stroke="#000" stroke-width="0.9" textLength="23.8" lengthAdjust="spacingAndGlyphs">(FLR1)</text>
<text x="169.4" y="785.1" font-size="10.20" font-weight="bold" fill="#000" stroke="#000" stroke-width="0.4" textLength="21.1" lengthAdjust="spacingAndGlyphs">Fuel</text>
<text x="169.4" y="796.3" font-size="10.20" font-weight="bold" fill="#000" stroke="#000" stroke-width="0.4" textLength="28.6" lengthAdjust="spacingAndGlyphs">pump</text>
<text x="169.4" y="807.5" font-size="10.20" font-weight="bold" fill="#000" stroke="#000" stroke-width="0.4" textLength="33.3" lengthAdjust="spacingAndGlyphs">control</text>
<text x="470.85" y="754.95" font-size="8.38" font-weight="bold" fill="#000" stroke="#000" stroke-width="0.9" textLength="3.4" lengthAdjust="spacingAndGlyphs">4</text>
<text x="572.45" y="749.55" font-size="10.40" font-weight="bold" fill="#000" stroke="#000" stroke-width="0.9" textLength="5.1" lengthAdjust="spacingAndGlyphs">6</text>
<text x="602.95" y="746.35" font-size="9.97" font-weight="bold" fill="#000" stroke="#000" stroke-width="0.9" textLength="7.6" lengthAdjust="spacingAndGlyphs">C</text>
<text x="477.95" y="773.15" font-size="5.48" font-weight="bold" fill="#000" stroke="#000" stroke-width="0.9" textLength="22.1" lengthAdjust="spacingAndGlyphs">(FLR2)</text>
<text x="471.6" y="785.3" font-size="10.20" font-weight="bold" fill="#000" stroke="#000" stroke-width="0.4" textLength="20" lengthAdjust="spacingAndGlyphs">Fuel</text>
<text x="471.6" y="796.4" font-size="10.20" font-weight="bold" fill="#000" stroke="#000" stroke-width="0.4" textLength="27.6" lengthAdjust="spacingAndGlyphs">pump</text>
<text x="472" y="807.4" font-size="10.20" font-weight="bold" fill="#000" stroke="#000" stroke-width="0.4" textLength="22.8" lengthAdjust="spacingAndGlyphs">relay</text>
<text x="471.6" y="818.6" font-size="10.20" font-weight="bold" fill="#000" stroke="#000" stroke-width="0.4" textLength="32.9" lengthAdjust="spacingAndGlyphs">control</text>
<text x="583.15" y="773.15" font-size="6.06" font-weight="bold" fill="#000" stroke="#000" stroke-width="0.9" textLength="18.9" lengthAdjust="spacingAndGlyphs">(STS)</text>
<text x="572.6" y="785.8" font-size="10.20" font-weight="bold" fill="#000" stroke="#000" stroke-width="0.4" textLength="38.2" lengthAdjust="spacingAndGlyphs">Starting</text>
<text x="572.6" y="796.8" font-size="10.20" font-weight="bold" fill="#000" stroke="#000" stroke-width="0.4" textLength="24.2" lengthAdjust="spacingAndGlyphs">input</text>
<text x="631.55" y="767.75" font-size="9.68" font-weight="bold" fill="#000" stroke="#000" stroke-width="0.9" textLength="74.3" lengthAdjust="spacingAndGlyphs">POWERTRAIN</text>
<text x="631.55" y="779.05" font-size="9.82" font-weight="bold" fill="#000" stroke="#000" stroke-width="0.9" textLength="53.5" lengthAdjust="spacingAndGlyphs">CONTROL</text>
<text x="631.55" y="790.45" font-size="10.69" font-weight="bold" fill="#000" stroke="#000" stroke-width="0.9" textLength="46.1" lengthAdjust="spacingAndGlyphs">MODULE</text>
<text x="631.55" y="802.05" font-size="11.13" font-weight="bold" fill="#000" stroke="#000" stroke-width="0.9" textLength="30.7" lengthAdjust="spacingAndGlyphs">(PCM)</text>
</svg></body></html>
